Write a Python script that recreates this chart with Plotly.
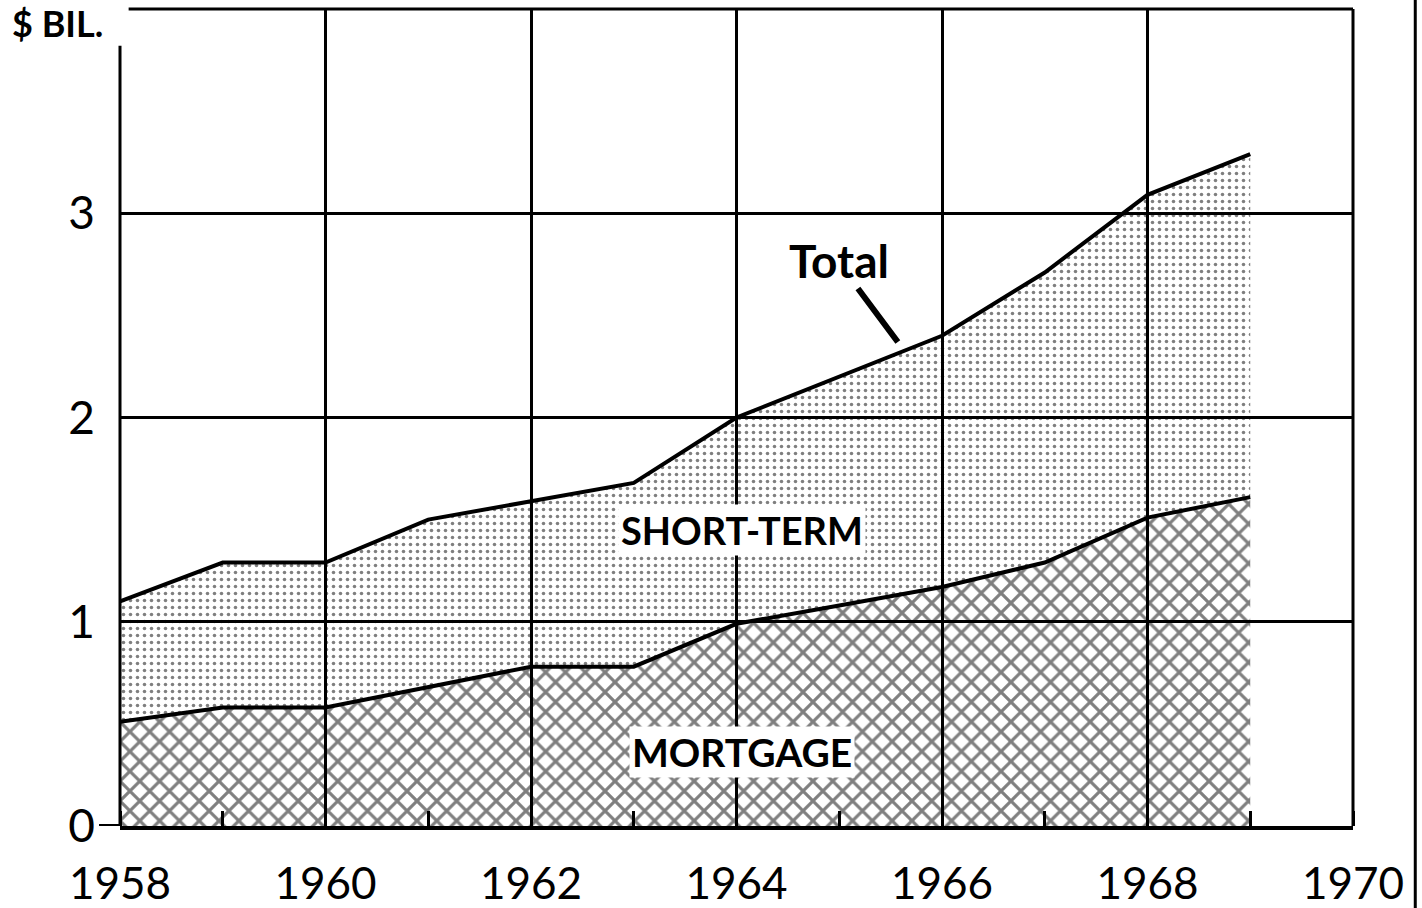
import plotly.graph_objects as go

years = [1958, 1959, 1960, 1961, 1962, 1963, 1964, 1965, 1966, 1967, 1968, 1969]
total = [1.10, 1.29, 1.29, 1.50, 1.59, 1.68, 2.00, 2.20, 2.40, 2.71, 3.09, 3.29]
mortgage = [0.51, 0.58, 0.58, 0.68, 0.78, 0.78, 0.99, 1.08, 1.17, 1.29, 1.51, 1.61]

x_ticks = [1958, 1960, 1962, 1964, 1966, 1968, 1970]
y_ticks = [0, 1, 2, 3]

FONT = "Lato"
BLACK = "#000000"

fig = go.Figure()

fig.add_trace(go.Scatter(
    x=years, y=mortgage, mode="lines",
    line=dict(color=BLACK, width=4),
    fill="tozeroy", fillcolor="rgba(0,0,0,0)",
    fillpattern=dict(shape="x", fgcolor=BLACK, bgcolor="rgba(0,0,0,0)",
                     size=14, solidity=0.4),
    hoverinfo="skip", showlegend=False,
))
fig.add_trace(go.Scatter(
    x=years, y=total, mode="lines",
    line=dict(color=BLACK, width=4),
    fill="tonexty", fillcolor="rgba(0,0,0,0)",
    fillpattern=dict(shape=".", fgcolor=BLACK, bgcolor="rgba(0,0,0,0)",
                     size=7, solidity=0.2),
    hoverinfo="skip", showlegend=False,
))

fig.update_layout(
    width=1422, height=908,
    margin=dict(l=120, r=69, t=9, b=82, autoexpand=False),
    paper_bgcolor="white", plot_bgcolor="white",
    font=dict(family=FONT, color=BLACK),
    xaxis=dict(
        range=[1958, 1970], tickvals=x_ticks, ticktext=[str(v) for v in x_ticks],
        showgrid=True, gridcolor=BLACK, gridwidth=2.5, automargin=False,
        showline=True, linecolor=BLACK, linewidth=4,
        ticks="", tickfont=dict(size=44, family=FONT, color=BLACK),
        ticklabelstandoff=16, zeroline=False,
        minor=dict(dtick=1, tick0=1959, ticks="inside", ticklen=15,
                   tickwidth=3, tickcolor=BLACK, showgrid=False),
    ),
    yaxis=dict(
        range=[0, 4], tickvals=y_ticks, ticktext=[str(v) for v in y_ticks],
        showgrid=True, gridcolor=BLACK, gridwidth=2.5, automargin=False,
        showline=False, ticks="", zeroline=False,
        tickfont=dict(size=46, family=FONT, color=BLACK),
        ticklabelstandoff=24,
    ),
    shapes=[
        dict(type="line", xref="x domain", yref="y", x0=0, x1=0, y0=0, y1=3.82,
             line=dict(color=BLACK, width=3)),
        dict(type="line", xref="x domain", yref="y domain", x0=0.007, x1=1, y0=1, y1=1,
             line=dict(color=BLACK, width=3)),
        dict(type="line", xref="x domain", yref="y domain", x0=1, x1=1, y0=0, y1=1,
             line=dict(color=BLACK, width=3)),
        dict(type="line", xref="x domain", yref="y", x0=-0.017, x1=0, y0=0, y1=0,
             line=dict(color=BLACK, width=4)),
        dict(type="line", xref="paper", yref="paper", x0=1.0505, x1=1.0505, y0=-0.101, y1=1.011,
             line=dict(color=BLACK, width=3)),
    ],
    annotations=[
        dict(text="<b>$ BIL.</b>", xref="paper", yref="paper", x=-0.089, y=0.983,
             xanchor="left", yanchor="middle", showarrow=False,
             font=dict(size=36, family=FONT, color=BLACK)),
        dict(text="<b>SHORT-TERM</b>", x=1964.05, y=1.45, showarrow=False,
             font=dict(size=38, family=FONT, color=BLACK),
             bgcolor="white", borderpad=2),
        dict(text="<b>MORTGAGE</b>", x=1964.05, y=0.36, showarrow=False,
             font=dict(size=39, family=FONT, color=BLACK),
             bgcolor="white", borderpad=2),
        dict(text="<b>Total</b>", x=1965.0, y=2.77, showarrow=False,
             font=dict(size=46, family=FONT, color=BLACK)),
        dict(text="", x=1965.57, y=2.37, ax=-41, ay=-55, showarrow=True,
             arrowhead=0, arrowwidth=6, arrowcolor=BLACK),
    ],
)

fig.write_html("out.html", config={"displayModeBar": False},
               post_script="document.body.style.margin='0';document.body.style.overflow='hidden';")
